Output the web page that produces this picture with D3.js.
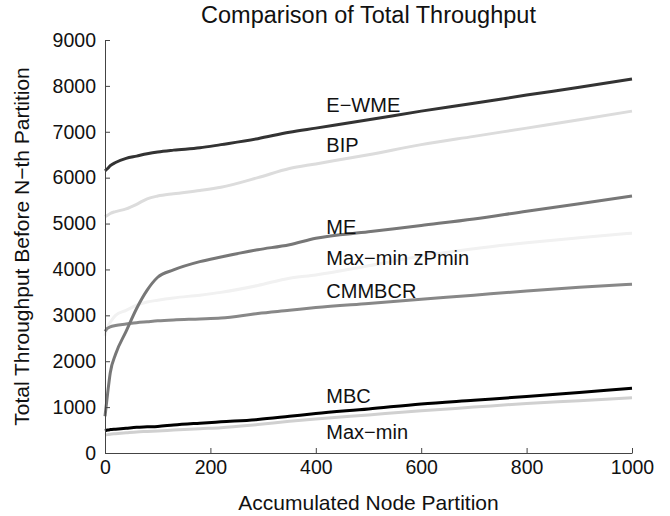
<!DOCTYPE html>
<html>
<head>
<meta charset="utf-8">
<script src="https://cdn.jsdelivr.net/npm/d3@7"></script>
<style>
  body { margin: 0; background: #fff; }
  svg { font-family: "Liberation Sans", Arial, sans-serif; }
</style>
</head>
<body>
<svg id="chart"></svg>
<script>
const W = 670, H = 516
const margin = { top: 40, right: 38, bottom: 63, left: 105 }

// accumulated node partition sample points
const partitions = [0, 5, 10, 20, 40, 60, 80, 100, 130, 180, 220, 290, 350, 400, 500, 600, 700, 800, 900, 1000]

const ewme    = [6150, 6200, 6260, 6330, 6420, 6470, 6520, 6560, 6600, 6650, 6720, 6850, 6990, 7080, 7260, 7450, 7620, 7800, 7970, 8150]
const bip     = [5150, 5180, 5220, 5260, 5320, 5420, 5540, 5600, 5650, 5720, 5790, 6000, 6200, 6300, 6500, 6720, 6900, 7080, 7260, 7450]
const me      = [800, 1300, 1750, 2150, 2650, 3150, 3550, 3830, 3990, 4170, 4270, 4430, 4540, 4680, 4820, 4960, 5100, 5270, 5430, 5600]
const zpmin   = [2550, 2750, 2850, 3000, 3110, 3220, 3290, 3330, 3380, 3440, 3500, 3650, 3810, 3880, 4080, 4290, 4450, 4580, 4690, 4790]
const cmmbcr  = [2650, 2720, 2750, 2780, 2810, 2840, 2860, 2880, 2900, 2920, 2940, 3040, 3110, 3170, 3260, 3350, 3440, 3530, 3610, 3680]
const mbc     = [480, 500, 510, 520, 540, 560, 570, 580, 610, 650, 680, 730, 800, 860, 960, 1070, 1150, 1230, 1320, 1410]
const maxmin  = [390, 400, 410, 420, 440, 460, 470, 480, 500, 530, 550, 620, 690, 740, 830, 920, 1000, 1080, 1140, 1205]

const xTicks = [0, 200, 400, 600, 800, 1000]
const yTicks = [0, 1000, 2000, 3000, 4000, 5000, 6000, 7000, 8000, 9000]

// drawn in this order (light ones first so dark ones sit on top)
const series = [
    { name: 'Max-min zPmin', values: zpmin,  color: '#f1f1f1' },
    { name: 'BIP',           values: bip,    color: '#dcdcdc' },
    { name: 'Max-min',       values: maxmin, color: '#d0d0d0' },
    { name: 'CMMBCR',        values: cmmbcr, color: '#888888' },
    { name: 'ME',            values: me,     color: '#777777' },
    { name: 'E-WME',         values: ewme,   color: '#333333' },
    { name: 'MBC',           values: mbc,    color: '#000000' },
]

// label anchors, in data units
const labelNames = ['E\u2212WME', 'BIP', 'ME', 'Max\u2212min zPmin', 'CMMBCR', 'MBC', 'Max\u2212min']
const labelX     = [420, 420, 420, 420, 420, 420, 420]
const labelY     = [7440, 6570, 4770, 4100, 3370, 1080, 300]

const svg = d3.select('#chart')
    .attr('width', W)
    .attr('height', H)

const x = d3.scaleLinear().domain([0, 1000]).range([margin.left, W - margin.right])
const y = d3.scaleLinear().domain([0, 9000]).range([H - margin.bottom, margin.top])

const line = d3.line()
    .x((d, i) => x(partitions[i]))
    .y(d => y(d))
    .curve(d3.curveMonotoneX)

svg.append('g')
    .selectAll('path')
    .data(series)
    .enter()
    .append('path')
    .attr('fill', 'none')
    .attr('stroke', d => d.color)
    .attr('stroke-width', 3)
    .attr('stroke-linejoin', 'round')
    .attr('d', d => line(d.values))

const xAxis = svg.append('g')
    .attr('transform', `translate(0,${H - margin.bottom})`)
    .call(d3.axisBottom(x).tickValues(xTicks).tickFormat(d3.format('d'))
        .tickSizeInner(-5).tickSizeOuter(0).tickPadding(7))

const yAxis = svg.append('g')
    .attr('transform', `translate(${margin.left},0)`)
    .call(d3.axisLeft(y).tickValues(yTicks).tickFormat(d3.format('d'))
        .tickSizeInner(-5).tickSizeOuter(0).tickPadding(9))

for (const ax of [xAxis, yAxis]) {
    ax.select('.domain').attr('stroke', '#444')
    ax.selectAll('.tick line').attr('stroke', '#444')
    ax.selectAll('.tick text').attr('fill', '#111').style('font-size', '19.5px')
}

svg.append('g')
    .selectAll('text')
    .data(labelNames)
    .enter()
    .append('text')
    .attr('x', (d, i) => x(labelX[i]))
    .attr('y', (d, i) => y(labelY[i]))
    .attr('fill', '#111')
    .style('font-size', '20px')
    .text(d => d)

const cx = (margin.left + W - margin.right) / 2

svg.append('text')
    .attr('x', cx)
    .attr('y', 23)
    .attr('text-anchor', 'middle')
    .attr('fill', '#111')
    .style('font-size', '23.5px')
    .text('Comparison of Total Throughput')

svg.append('text')
    .attr('x', cx)
    .attr('y', 510)
    .attr('text-anchor', 'middle')
    .attr('fill', '#111')
    .style('font-size', '21px')
    .text('Accumulated Node Partition')

svg.append('text')
    .attr('transform', `translate(29,${(margin.top + H - margin.bottom) / 2}) rotate(-90)`)
    .attr('text-anchor', 'middle')
    .attr('fill', '#111')
    .style('font-size', '21px')
    .text('Total Throughput Before N\u2212th Partition')
</script>
</body>
</html>
